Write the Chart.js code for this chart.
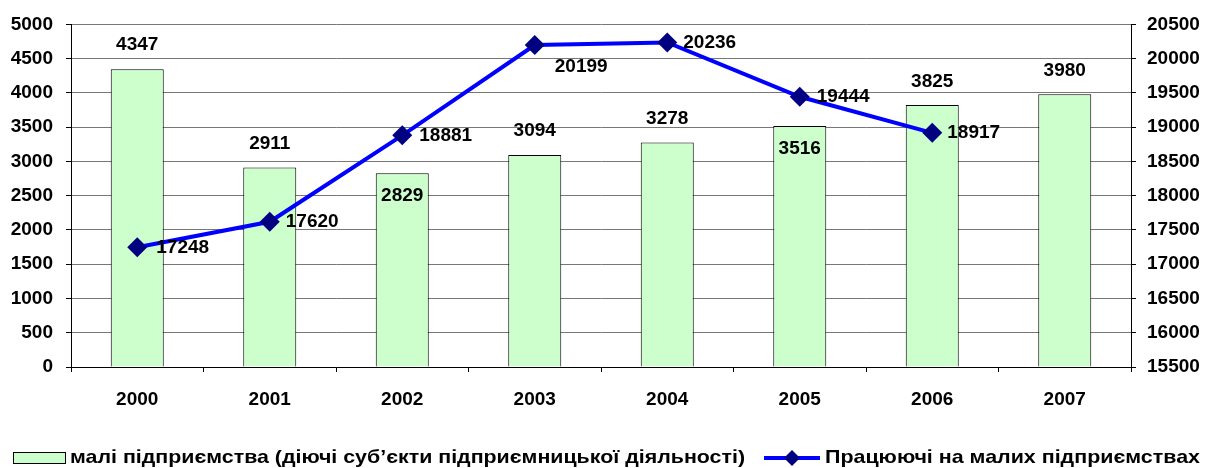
<!DOCTYPE html>
<html lang="uk">
<head>
<meta charset="utf-8"/>
<title>Малі підприємства</title>
<script src="https://cdn.jsdelivr.net/npm/chart.js"></script>
<style>
html, body {
  margin: 0;
  padding: 0;
  background: #fff;
}
#wrap {
  width: 1217px;
  height: 468px;
}
</style>
</head>
<body>
<div id="wrap"><canvas id="chart"></canvas></div>
<script>
"use strict";
const years = ["2000", "2001", "2002", "2003", "2004", "2005", "2006", "2007"];
const firms = [4347, 2911, 2829, 3094, 3278, 3516, 3825, 3980];
const workers = [17248, 17620, 18881, 20199, 20236, 19444, 18917, null];
const firmsLabel = "малі підприємства (діючі суб’єкти підприємницької діяльності)";
const workersLabel = "Працюючі на малих підприємствах";

// label placement (px), tuned to the picture
const firmsLabelDy = [-24, -24, 23, -24, -24, 23, -23, -24];
const workersLabelDx = [19, 16, 17, 20, 16, 17, 15, 0];
const workersLabelDy = [1, 0, 0, 22, 0, 0, 0, 0];

const FAMILY = "'Liberation Sans', Arial, sans-serif";
const FONT = "bold 19px " + FAMILY;
const tickFont = {family: FAMILY, size: 19, weight: "bold"};

const valueLabels = {
  id: "valueLabels",
  afterDatasetsDraw(chart){
    const ctx = chart.ctx;
    ctx.save();
    ctx.font = FONT;
    ctx.fillStyle = "#000";
    ctx.textBaseline = "middle";
    chart.getDatasetMeta(0).data.forEach((bar, i) => {
      ctx.textAlign = "center";
      ctx.fillText(String(firms[i]), bar.x, bar.y + firmsLabelDy[i]);
    });
    chart.getDatasetMeta(1).data.forEach((pt, i) => {
      if(workers[i] === null) return;
      ctx.textAlign = "left";
      ctx.fillText(String(workers[i]), pt.x + workersLabelDx[i], pt.y + workersLabelDy[i]);
    });
    ctx.restore();
  }
};

// text squeezed/stretched to the width it has in the picture
function fitText(ctx, text, x, y, width){
  const w = ctx.measureText(text).width;
  ctx.save();
  ctx.translate(x, y);
  ctx.scale(width / w, 1);
  ctx.fillText(text, 0, 0);
  ctx.restore();
}

const bottomLegend = {
  id: "bottomLegend",
  afterDraw(chart){
    const ctx = chart.ctx;
    const y = 458;
    ctx.save();
    ctx.font = FONT;
    ctx.textBaseline = "middle";
    ctx.textAlign = "left";
    // bar entry
    ctx.fillStyle = "#ccffcc";
    ctx.strokeStyle = "#000";
    ctx.lineWidth = 1;
    ctx.fillRect(13.5, y - 5.5, 52, 11);
    ctx.strokeRect(13.5, y - 5.5, 52, 11);
    ctx.fillStyle = "#000";
    fitText(ctx, firmsLabel, 70, y, 675);
    // line entry
    ctx.strokeStyle = "#0000ff";
    ctx.lineWidth = 4;
    ctx.beginPath();
    ctx.moveTo(764, y);
    ctx.lineTo(820, y);
    ctx.stroke();
    ctx.fillStyle = "#000080";
    ctx.beginPath();
    ctx.moveTo(792, y - 8);
    ctx.lineTo(800, y);
    ctx.lineTo(792, y + 8);
    ctx.lineTo(784, y);
    ctx.closePath();
    ctx.fill();
    ctx.fillStyle = "#000";
    fitText(ctx, workersLabel, 825, y, 375);
    ctx.restore();
  }
};

new Chart(document.getElementById("chart"), {
  type: "bar",
  data: {
    labels: years,
    datasets: [
      {
        label: firmsLabel,
        data: firms,
        yAxisID: "y",
        backgroundColor: "#ccffcc",
        borderColor: "#000",
        borderWidth: 1,
        barPercentage: 0.4,
        categoryPercentage: 1,
        order: 1
      },
      {
        type: "line",
        label: workersLabel,
        data: workers,
        yAxisID: "y2",
        borderColor: "#0000ff",
        borderWidth: 4,
        pointStyle: "rectRot",
        pointRadius: 10,
        pointBackgroundColor: "#000080",
        pointBorderColor: "#000080",
        pointBorderWidth: 0,
        spanGaps: false,
        order: 0
      }
    ]
  },
  options: {
    responsive: true,
    maintainAspectRatio: false,
    animation: false,
    layout: {
      padding: {top: 24, left: 0, right: 0, bottom: 0}
    },
    plugins: {
      legend: {display: false},
      tooltip: {enabled: false}
    },
    scales: {
      x: {
        afterFit(scale){ scale.height = 101; },
        border: {display: true, color: "#000", width: 1},
        grid: {
          offset: true,
          drawOnChartArea: false,
          drawTicks: true,
          tickLength: 5,
          tickColor: "#000"
        },
        ticks: {
          color: "#000",
          font: tickFont,
          padding: 16
        }
      },
      y: {
        position: "left",
        min: 0,
        max: 5000,
        afterFit(scale){ scale.width = 71; },
        border: {display: true, color: "#000", width: 1},
        grid: {
          color: "#777",
          lineWidth: 1,
          tickLength: 5,
          tickColor: "#000"
        },
        ticks: {
          stepSize: 500,
          color: "#000",
          font: tickFont,
          padding: 13,
          callback: (v) => String(v)
        }
      },
      y2: {
        position: "right",
        min: 15500,
        max: 20500,
        afterFit(scale){ scale.width = 86; },
        border: {display: true, color: "#000", width: 1},
        grid: {
          drawOnChartArea: false,
          tickLength: 5,
          tickColor: "#000"
        },
        ticks: {
          stepSize: 500,
          color: "#000",
          font: tickFont,
          padding: 11,
          callback: (v) => String(v)
        }
      }
    }
  },
  plugins: [valueLabels, bottomLegend]
});
</script>
</body>
</html>
